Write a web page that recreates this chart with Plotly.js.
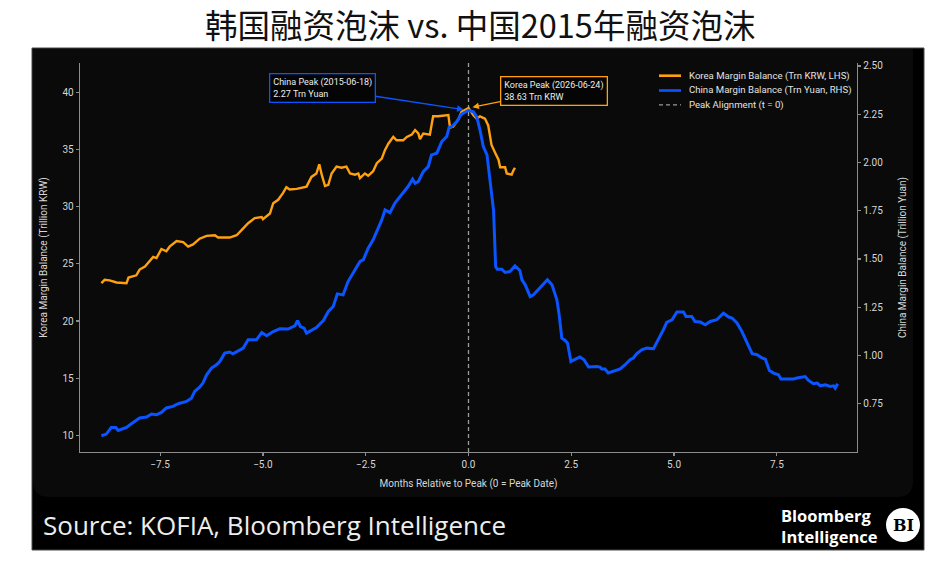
<!DOCTYPE html>
<html>
<head>
<meta charset="utf-8">
<script src="https://cdn.plot.ly/plotly-3.0.1.min.js"></script>
<style>
html,body{margin:0;padding:0;background:#fff;}
#chart{width:948px;height:567px;}
</style>
</head>
<body>
<div id="chart"></div>
<script>
// ---------------- DATA ----------------
const koreaT = [-8.93,-8.85,-8.73,-8.56,-8.32,-8.27,-8.08,-8.0,-7.87,-7.77,-7.67,-7.59,-7.47,-7.35,-7.27,-7.10,-6.94,-6.82,-6.70,-6.54,-6.37,-6.17,-6.09,-5.81,-5.64,-5.48,-5.36,-5.20,-5.03,-5.0,-4.83,-4.75,-4.63,-4.51,-4.43,-4.35,-4.18,-3.94,-3.82,-3.70,-3.63,-3.57,-3.49,-3.41,-3.33,-3.21,-3.09,-2.97,-2.88,-2.76,-2.68,-2.64,-2.52,-2.44,-2.32,-2.23,-2.11,-2.03,-1.95,-1.83,-1.75,-1.59,-1.50,-1.38,-1.30,-1.22,-1.18,-1.10,-1.02,-0.94,-0.86,-0.74,-0.49,-0.45,-0.37,-0.25,-0.17,-0.04,0,0.12,0.20,0.28,0.40,0.48,0.56,0.65,0.73,0.77,0.89,0.93,1.05,1.09,1.13];
const koreaBal = [23.31,23.6,23.55,23.37,23.3,23.8,24.0,24.5,24.77,25.2,25.6,25.5,26.3,26.1,26.5,27.0,26.9,26.5,26.7,27.2,27.45,27.5,27.3,27.3,27.5,28.1,28.55,29.0,29.1,28.9,29.4,30.3,30.6,31.2,31.7,31.5,31.55,31.75,32.6,32.9,33.7,32.8,31.8,31.9,32.9,33.5,33.4,33.5,32.9,32.8,32.9,32.5,32.9,32.7,33.1,33.8,34.2,34.96,35.5,36.1,35.8,35.8,36.1,36.3,36.7,36.4,35.9,36.4,36.35,36.3,37.9,37.9,38.0,36.9,37.0,37.6,38.3,38.6,38.63,38.0,37.7,37.9,37.7,37.1,35.4,34.7,34.1,33.45,33.45,32.9,32.8,33.15,33.4];

const chinaT = [-8.93,-8.81,-8.69,-8.58,-8.52,-8.32,-8.20,-8.0,-7.83,-7.71,-7.59,-7.47,-7.35,-7.19,-7.06,-6.86,-6.74,-6.66,-6.54,-6.46,-6.37,-6.25,-6.13,-6.05,-5.93,-5.81,-5.73,-5.60,-5.48,-5.36,-5.16,-5.03,-4.91,-4.75,-4.59,-4.39,-4.22,-4.16,-4.09,-4.00,-3.94,-3.70,-3.53,-3.41,-3.29,-3.19,-3.05,-2.93,-2.76,-2.64,-2.56,-2.44,-2.32,-2.20,-2.11,-2.03,-1.91,-1.79,-1.63,-1.47,-1.36,-1.30,-1.22,-1.10,-0.98,-0.90,-0.77,-0.65,-0.53,-0.47,-0.41,-0.29,-0.17,0,0.12,0.20,0.28,0.36,0.45,0.53,0.61,0.66,0.70,0.81,0.89,1.01,1.13,1.25,1.30,1.38,1.50,1.58,1.74,1.92,2.03,2.15,2.20,2.27,2.35,2.41,2.49,2.59,2.71,2.81,2.92,3.12,3.20,3.24,3.32,3.40,3.52,3.69,3.81,3.93,4.01,4.09,4.22,4.34,4.50,4.62,4.74,4.82,4.95,5.07,5.23,5.29,5.43,5.51,5.64,5.76,5.88,6.04,6.12,6.20,6.33,6.41,6.53,6.65,6.78,6.90,7.02,7.14,7.22,7.32,7.42,7.54,7.60,7.91,7.99,8.19,8.27,8.39,8.48,8.56,8.68,8.80,8.88,8.92,8.98];
const chinaBal = [0.584,0.593,0.627,0.627,0.612,0.627,0.646,0.676,0.681,0.697,0.693,0.705,0.728,0.736,0.75,0.762,0.779,0.814,0.836,0.857,0.90,0.935,0.952,0.969,1.012,1.018,1.009,1.026,1.038,1.081,1.081,1.119,1.102,1.124,1.138,1.137,1.154,1.181,1.150,1.142,1.116,1.145,1.181,1.228,1.254,1.319,1.314,1.383,1.444,1.487,1.495,1.556,1.599,1.659,1.702,1.754,1.740,1.789,1.832,1.875,1.913,1.892,1.901,1.952,1.978,2.039,2.048,2.108,2.134,2.182,2.185,2.21,2.25,2.27,2.262,2.236,2.168,2.082,2.039,1.905,1.75,1.461,1.447,1.447,1.430,1.435,1.464,1.440,1.392,1.366,1.305,1.314,1.349,1.392,1.366,1.288,1.219,1.09,1.078,1.064,0.969,0.978,0.992,0.978,0.940,0.943,0.940,0.930,0.930,0.909,0.917,0.930,0.952,0.978,0.987,1.009,1.030,1.038,1.035,1.081,1.133,1.171,1.185,1.225,1.225,1.202,1.202,1.176,1.173,1.159,1.176,1.185,1.202,1.219,1.199,1.194,1.168,1.124,1.064,1.009,1.004,0.987,0.981,0.922,0.909,0.900,0.878,0.878,0.883,0.891,0.871,0.854,0.857,0.843,0.848,0.840,0.843,0.831,0.854];

const peakT = 0;
const koreaPeak = 38.63;
const chinaPeak = 2.27;

const xTicks = [-7.5, -5.0, -2.5, 0.0, 2.5, 5.0, 7.5];
const koreaTicks = [10, 15, 20, 25, 30, 35, 40];
const chinaTicks = [0.75, 1.00, 1.25, 1.50, 1.75, 2.00, 2.25, 2.50];

const titleText = '韩国融资泡沫 vs. 中国2015年融资泡沫';
const koreaName = 'Korea Margin Balance (Trn KRW, LHS)';
const chinaName = 'China Margin Balance (Trn Yuan, RHS)';
const peakName = 'Peak Alignment (t = 0)';
const chinaNote = 'China Peak (2015-06-18)<br>2.27 Trn Yuan';
const koreaNote = 'Korea Peak (2026-06-24)<br>38.63 Trn KRW';
const sourceText = 'Source: KOFIA, Bloomberg Intelligence';
const brandText = '<b>Bloomberg</b><br><b>Intelligence</b>';

// ---------------- LAYOUT HELPERS ----------------
const W = 948, H = 567, ML = 80, MR = 91, MT = 63, MB = 115;
const PW = W - ML - MR, PH = H - MT - MB;
const px = v => (v - ML) / PW;
const py = v => 1 - (v - MT) / PH;

const ORANGE = '#FFA10F';
const BLUE = '#0A55FF';
const GREY = '#9a9a9a';
const AXC = '#8c8c8c';
const TXC = '#d6d6d6';
const FONT = 'Roboto, "Open Sans", sans-serif';

function roundedPanel(x0, y0, x1, y1, r) {
  return 'M ' + px(x0) + ' ' + py(y0) +
    ' L ' + px(x1) + ' ' + py(y0) +
    ' L ' + px(x1) + ' ' + py(y1 - r) +
    ' Q ' + px(x1) + ' ' + py(y1) + ' ' + px(x1 - r) + ' ' + py(y1) +
    ' L ' + px(x0 + r) + ' ' + py(y1) +
    ' Q ' + px(x0) + ' ' + py(y1) + ' ' + px(x0) + ' ' + py(y1 - r) +
    ' Z';
}

const traces = [
  {
    x: koreaT, y: koreaBal, name: koreaName, type: 'scatter', mode: 'lines',
    xaxis: 'x', yaxis: 'y2', showlegend: false,
    line: {color: ORANGE, width: 2.4}
  },
  {
    x: chinaT, y: chinaBal, name: chinaName, type: 'scatter', mode: 'lines',
    xaxis: 'x', yaxis: 'y3', showlegend: false,
    line: {color: BLUE, width: 3}
  },
  {
    x: [peakT, peakT], y: [0, 1], name: peakName, type: 'scatter', mode: 'lines',
    xaxis: 'x', yaxis: 'y', showlegend: false,
    line: {color: GREY, width: 1.3, dash: '4px,3px'}
  }
];

// compact legend (samples + labels)
const legendRows = [
  {name: koreaName, color: ORANGE, dash: 'solid', width: 2.6, y: 75.7},
  {name: chinaName, color: BLUE, dash: 'solid', width: 2.6, y: 90.5},
  {name: peakName, color: GREY, dash: '4px,3px', width: 1.3, y: 104.8}
];
const legendShapes = legendRows.map(r => ({
  type: 'line', xref: 'paper', yref: 'paper', layer: 'above',
  x0: px(659), x1: px(681), y0: py(r.y), y1: py(r.y),
  line: {color: r.color, width: r.width, dash: r.dash}
}));
const legendLabels = legendRows.map(r => ({
  text: r.name, xref: 'paper', yref: 'paper', x: px(687), y: py(r.y),
  xanchor: 'left', yanchor: 'middle', showarrow: false,
  font: {family: FONT, size: 9.6, color: '#e2e2e2'}
}));

const layout = {
  width: W, height: H,
  margin: {l: ML, r: MR, t: MT, b: MB, pad: 0},
  paper_bgcolor: '#ffffff',
  plot_bgcolor: 'rgba(0,0,0,0)',
  font: {family: FONT, color: TXC, size: 10},
  showlegend: false,
  xaxis: {
    range: [-9.45, 9.45], showgrid: false, zeroline: false,
    showline: true, linecolor: AXC, linewidth: 1.3,
    ticks: 'outside', ticklen: 3, tickcolor: AXC, tickwidth: 1.2,
    tickvals: xTicks, tickformat: '.1f',
    tickfont: {family: FONT, size: 10, color: TXC},
    title: {text: 'Months Relative to Peak (0 = Peak Date)', font: {family: FONT, size: 10, color: TXC}, standoff: 10},
    anchor: 'y', fixedrange: true
  },
  yaxis: {range: [0, 1], visible: false, fixedrange: true},
  yaxis2: {
    overlaying: 'y', side: 'left', anchor: 'x',
    range: [8.55, 42.56], showgrid: false, zeroline: false,
    showline: true, linecolor: AXC, linewidth: 1.3,
    ticks: 'outside', ticklen: 3, tickcolor: AXC, tickwidth: 1.2,
    tickvals: koreaTicks,
    tickfont: {family: FONT, size: 10, color: TXC},
    title: {text: 'Korea Margin Balance (Trillion KRW)', font: {family: FONT, size: 10, color: TXC}, standoff: 13},
    fixedrange: true
  },
  yaxis3: {
    overlaying: 'y', side: 'right', anchor: 'x',
    range: [0.5, 2.515], showgrid: false, zeroline: false,
    showline: true, linecolor: AXC, linewidth: 1.3,
    ticks: 'outside', ticklen: 3, tickcolor: AXC, tickwidth: 1.2,
    tickvals: chinaTicks, tickformat: '.2f',
    tickfont: {family: FONT, size: 10, color: TXC},
    title: {text: 'China Margin Balance (Trillion Yuan)', font: {family: FONT, size: 10, color: TXC}, standoff: 16},
    fixedrange: true
  },
  shapes: [
    {type: 'rect', xref: 'paper', yref: 'paper', layer: 'below',
     x0: px(32), x1: px(924), y0: py(550), y1: py(48),
     fillcolor: '#000000', line: {color: '#4a4a4a', width: 1}},
    {type: 'path', xref: 'paper', yref: 'paper', layer: 'below',
     path: roundedPanel(33, 49, 913, 497, 16),
     fillcolor: '#0a0a0a', line: {width: 0}},
    {type: 'circle', xref: 'paper', yref: 'paper', layer: 'above',
     x0: px(886), x1: px(920), y0: py(542), y1: py(508),
     fillcolor: '#ffffff', line: {width: 0}}
  ].concat(legendShapes),
  annotations: [
    {text: titleText, xref: 'paper', yref: 'paper', x: px(480), y: py(23),
     xanchor: 'center', yanchor: 'middle', showarrow: false,
     font: {family: '"Noto Sans CJK SC", sans-serif', size: 32.5, color: '#111111'}},
    {text: chinaNote, xref: 'x', yref: 'y3', x: peakT, y: chinaPeak,
     ax: -146, ay: -22, showarrow: true, arrowhead: 2, arrowsize: 1, arrowwidth: 1.3,
     arrowcolor: BLUE, standoff: 5, align: 'left',
     bordercolor: BLUE, borderwidth: 1.3, borderpad: 3, bgcolor: '#050505',
     font: {family: FONT, size: 9, color: '#ececec'}},
    {text: koreaNote, xref: 'x', yref: 'y2', x: peakT, y: koreaPeak,
     ax: 85, ay: -17, showarrow: true, arrowhead: 2, arrowsize: 1, arrowwidth: 1.3,
     arrowcolor: ORANGE, standoff: 4, align: 'left',
     bordercolor: ORANGE, borderwidth: 1.3, borderpad: 3, bgcolor: '#050505',
     font: {family: FONT, size: 9, color: '#ececec'}},
    {text: sourceText, xref: 'paper', yref: 'paper', x: px(41), y: py(525),
     xanchor: 'left', yanchor: 'middle', showarrow: false,
     font: {family: '"Open Sans", sans-serif', size: 26, color: '#ededed'}},
    {text: brandText, xref: 'paper', yref: 'paper', x: px(779), y: py(526),
     xanchor: 'left', yanchor: 'middle', showarrow: false, align: 'left',
     font: {family: '"Open Sans", sans-serif', size: 16.5, color: '#ffffff'}},
    {text: '<b>BI</b>', xref: 'paper', yref: 'paper', x: px(903), y: py(525),
     xanchor: 'center', yanchor: 'middle', showarrow: false,
     font: {family: '"DejaVu Serif", "Liberation Serif", serif', size: 16, color: '#000000'}}
  ].concat(legendLabels)
};

Plotly.newPlot('chart', traces, layout, {displayModeBar: false, staticPlot: true});
</script>
</body>
</html>
